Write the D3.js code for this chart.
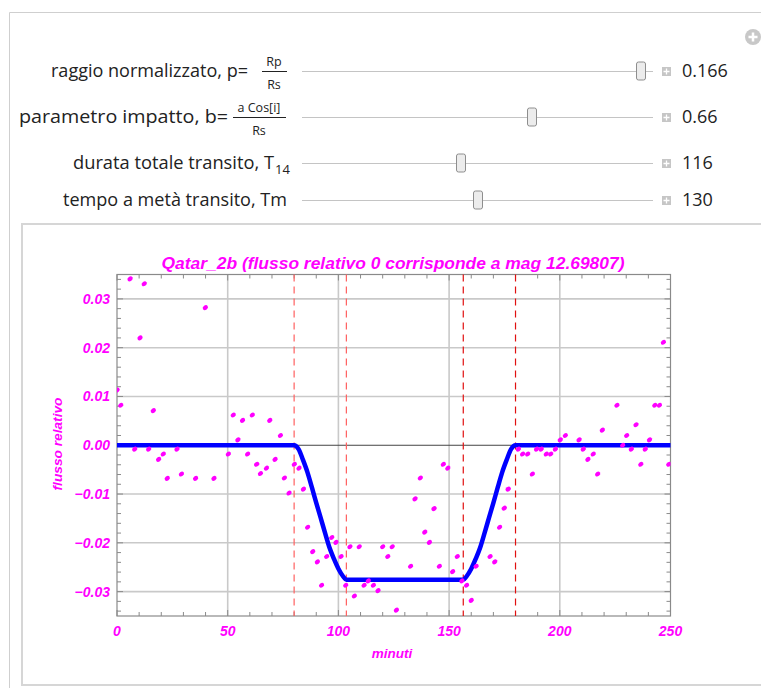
<!DOCTYPE html>
<html>
<head>
<meta charset="utf-8">
<script src="https://cdn.jsdelivr.net/npm/d3@7"></script>
<style>
  body { margin: 0; background: #fff; }
  svg { display: block; }
  .lbl { font-family: "Open Sans", sans-serif; fill: #222; }
  .tick-txt { font-family: "Liberation Sans", Arial, sans-serif; font-weight: bold; font-style: italic; fill: #ff00ff; }
</style>
</head>
<body>
<script>
// slider controls
var sliderValues = [0.166, 0.66, 116, 130];
var sliderText = ["0.166", "0.66", "116", "130"];
var sliderRanges = [[0, 0.17], [0, 1], [0, 256], [0, 260]];

// transit times marked with dashed lines (minutes)
var markTimes = [80, 103.6, 156.4, 180];

// model light curve (minutes, relative flux)
var modelT = [0, 80, 82, 84, 86, 88, 90, 92, 94, 96, 98, 100, 102, 103.6,
              156.4, 158, 160, 162, 164, 166, 168, 170, 172, 174, 176, 178, 180, 250];
var modelF = [0, 0, -0.0008, -0.0030, -0.0055, -0.0086, -0.0118, -0.0149, -0.0180, -0.0210, -0.0233, -0.0253, -0.0268, -0.02755,
              -0.02755, -0.0268, -0.0253, -0.0233, -0.0210, -0.0180, -0.0149, -0.0118, -0.0086, -0.0055, -0.0030, -0.0008, 0, 0];

// observed points
var obsT = [0, 1.7, 5.9, 8.0, 10.4, 12.3, 14.3, 16.4, 18.8, 20.9, 22.7, 27.1, 29.1, 35.5, 39.9, 43.8,
            50.3, 52.5, 54.6, 56.7, 59.0, 61.1, 63.1, 64.8, 67.5, 69.0, 71.4, 73.8, 75.6, 77.7,
            80.1, 82.2, 84.2, 86.1, 88.4, 90.5, 92.4, 94.7, 97.0, 98.9, 101.2, 103.3, 105.2, 107.2,
            109.4, 111.6, 113.5, 115.8, 117.9, 120.0, 122.3, 124.3, 126.2, 132.6, 134.6, 137.0, 139.0,
            141.1, 143.2, 145.6, 147.4, 149.4, 151.6, 153.7, 155.8, 157.9, 160.0, 162.2, 168.5, 170.6,
            172.8, 174.9, 176.7, 181.3, 183.2, 185.5, 187.6, 189.5, 191.6, 193.9, 195.9, 198.0, 200.2,
            202.5, 208.7, 210.6, 212.7, 215.1, 217.1, 219.2, 225.8, 228.4, 230.2, 232.3, 234.4, 236.6,
            238.6, 240.5, 242.9, 245.0, 246.8, 249.3];
var obsF = [0.0113, 0.0082, 0.0341, -0.0008, 0.0220, 0.0331, -0.0008, 0.0071, -0.0029, -0.0018, -0.0068, -0.0008, -0.0059, -0.0068, 0.0282, -0.0068,
            -0.0018, 0.0062, 0.0011, 0.0051, -0.0018, 0.0062, -0.0039, -0.0058, -0.0047, 0.0051, -0.0029, 0.0020, -0.0067, -0.0098,
            -0.0039, -0.0047, -0.0090, -0.0168, -0.0218, -0.0239, -0.0287, -0.0228, -0.0189, -0.0199, -0.0228, -0.0287, -0.0208, -0.0309,
            -0.0208, -0.0287, -0.0278, -0.0287, -0.0298, -0.0208, -0.0228, -0.0208, -0.0338, -0.0248, -0.0110, -0.0067, -0.0178,
            -0.0199, -0.0130, -0.0248, -0.0039, -0.0047, -0.0259, -0.0228, -0.0278, -0.0287, -0.0318, -0.0248, -0.0228, -0.0239,
            -0.0168, -0.0129, -0.0090, -0.0008, -0.0018, -0.0018, -0.0059, -0.0008, -0.0008, -0.0018, -0.0018, -0.0008, 0.0011,
            0.0020, 0.0011, -0.0008, -0.0029, -0.0018, -0.0059, 0.0031, 0.0082, 0.0000, 0.0020, -0.0008, 0.0042, -0.0039,
            -0.0008, 0.0011, 0.0082, 0.0082, 0.0211, -0.0039];

var xTicks = [0, 50, 100, 150, 200, 250];
var yTicks = [-0.03, -0.02, -0.01, 0, 0.01, 0.02, 0.03];

var W = 761, H = 688;
var svg = d3.select("body").append("svg").attr("width", W).attr("height", H);

// outer panel border
svg.append("path").attr("d", "M9.5,688 V12.5 H761")
    .attr("fill", "none").attr("stroke", "#cfcfcf");

// plus icon top right
var pi = svg.append("g").attr("transform", "translate(753,37)");
pi.append("circle").attr("r", 8).attr("fill", "#c8c8c8");
pi.append("path").attr("d", "M-4.5,0 H4.5 M0,-4.5 V4.5").attr("stroke", "#fff").attr("stroke-width", 2.5);

// ---- sliders ----
var rowsY = [71, 117, 163, 200];
var trackX = [302, 653];

var rows = svg.append("g");
function label(xEnd, y, txt, len) {
  return rows.append("text").attr("class", "lbl").attr("x", xEnd).attr("y", y + 6)
      .attr("text-anchor", "end").style("font-size", "18px")
      .attr("textLength", len).attr("lengthAdjust", "spacingAndGlyphs").text(txt);
}
function small(xc, y, txt) {
  rows.append("text").attr("class", "lbl").attr("x", xc).attr("y", y)
      .attr("text-anchor", "middle").style("font-size", "12.5px").text(txt);
}
// row 1 : fraction Rp/Rs
label(248, rowsY[0], "raggio normalizzato, p=", 197);
small(274, rowsY[0] - 5, "Rp");
rows.append("line").attr("x1", 262).attr("x2", 287).attr("y1", rowsY[0] + 0.5).attr("y2", rowsY[0] + 0.5)
    .attr("stroke", "#222");
small(274, rowsY[0] + 18, "Rs");
// row 2 : fraction a Cos[i]/Rs
label(228, rowsY[1], "parametro impatto, b=", 209);
small(259, rowsY[1] - 5, "a Cos[i]");
rows.append("line").attr("x1", 233).attr("x2", 286).attr("y1", rowsY[1] + 0.5).attr("y2", rowsY[1] + 0.5)
    .attr("stroke", "#222");
small(259, rowsY[1] + 18, "Rs");
// row 3 : T14
label(274, rowsY[2], "durata totale transito, T", 201);
rows.append("text").attr("class", "lbl").attr("x", 275).attr("y", rowsY[2] + 11)
    .style("font-size", "13px").text("14");
// row 4
label(287, rowsY[3], "tempo a metà transito, Tm", 224);

sliderValues.forEach(function(v, i) {
  var y = rowsY[i];
  var s = d3.scaleLinear().domain(sliderRanges[i]).range([trackX[0] + 4, trackX[1] - 4]);
  rows.append("line").attr("x1", trackX[0]).attr("x2", trackX[1])
      .attr("y1", y + 0.5).attr("y2", y + 0.5).attr("stroke", "#c4c4c4");
  var tx = Math.round(s(v));
  rows.append("rect").attr("x", tx - 4.5).attr("y", y - 9).attr("width", 9).attr("height", 18)
      .attr("rx", 2).attr("fill", "#ececec").attr("stroke", "#8e8e8e");
  // small plus box
  rows.append("rect").attr("x", 662).attr("y", y - 4).attr("width", 9).attr("height", 9)
      .attr("fill", "#c6c6c6");
  rows.append("path").attr("d", "M" + 663.5 + "," + (y + 0.5) + " h6 M" + 666.5 + "," + (y - 2.5) + " v6")
      .attr("stroke", "#fff").attr("stroke-width", 1.3);
  rows.append("text").attr("class", "lbl").attr("x", 682).attr("y", y + 6)
      .style("font-size", "18px").text(sliderText[i]);
});

// ---- chart panel ----
svg.append("rect").attr("x", 22).attr("y", 224).attr("width", 760).attr("height", 461)
    .attr("fill", "#fff").attr("stroke", "#d6d6d6").attr("stroke-width", 2);

var x = d3.scaleLinear().domain([0, 250]).range([117, 670.5]);
var y = d3.scaleLinear().domain([-0.035, 0.035]).range([616, 274.5]);

var plot = svg.append("g");

// grid
plot.append("g").selectAll("line").data(xTicks.slice(1, -1)).enter().append("line")
    .attr("x1", function(d) { return x(d); }).attr("x2", function(d) { return x(d); })
    .attr("y1", y(0.035)).attr("y2", y(-0.035))
    .attr("stroke", "#c9c9c9").attr("stroke-width", 1.6);
plot.append("g").selectAll("line").data(yTicks.filter(function(d) { return d !== 0; })).enter().append("line")
    .attr("x1", x(0)).attr("x2", x(250))
    .attr("y1", function(d) { return y(d); }).attr("y2", function(d) { return y(d); })
    .attr("stroke", "#c9c9c9").attr("stroke-width", 1.6);
plot.append("line").attr("x1", x(0)).attr("x2", x(250)).attr("y1", y(0)).attr("y2", y(0))
    .attr("stroke", "#444").attr("stroke-width", 1);

// frame and minor ticks
plot.append("rect").attr("x", x(0)).attr("y", y(0.035)).attr("width", x(250) - x(0))
    .attr("height", y(-0.035) - y(0.035)).attr("fill", "none").attr("stroke", "#8a8a8a").attr("stroke-width", 1.2);

var xMinor = d3.range(0, 251, 10);
var yMinor = d3.range(-34, 35, 2).map(function(d) { return d / 1000; });
var tk = plot.append("g").attr("stroke", "#8a8a8a").attr("stroke-width", 1);
xMinor.forEach(function(d) {
  var len = d % 50 === 0 ? 6 : 4;
  tk.append("line").attr("x1", x(d)).attr("x2", x(d)).attr("y1", y(-0.035)).attr("y2", y(-0.035) - len);
  tk.append("line").attr("x1", x(d)).attr("x2", x(d)).attr("y1", y(0.035)).attr("y2", y(0.035) + len);
});
yMinor.forEach(function(d) {
  var len = Math.abs(Math.round(d * 1000)) % 10 === 0 ? 6 : 4;
  tk.append("line").attr("x1", x(0)).attr("x2", x(0) + len).attr("y1", y(d)).attr("y2", y(d));
  tk.append("line").attr("x1", x(250)).attr("x2", x(250) - len).attr("y1", y(d)).attr("y2", y(d));
});

// dashed markers
plot.append("g").selectAll("line").data(markTimes).enter().append("line")
    .attr("x1", function(d) { return x(d); }).attr("x2", function(d) { return x(d); })
    .attr("y1", y(0.035)).attr("y2", y(-0.035))
    .attr("stroke", function(d, i) { return i < 2 ? "#ff6060" : "#e01010"; })
    .attr("stroke-width", 1.2).attr("stroke-dasharray", "7,5");

// model curve
var model = modelT.map(function(t, i) { return [t, modelF[i]]; });
plot.append("path").datum(model)
    .attr("fill", "none").attr("stroke", "#0000ff").attr("stroke-width", 4.5)
    .attr("stroke-linejoin", "round")
    .attr("d", d3.line().x(function(d) { return x(d[0]); }).y(function(d) { return y(d[1]); })
        .curve(d3.curveMonotoneX));

// observed points
var clip = svg.append("clipPath").attr("id", "clip").append("rect")
    .attr("x", x(0)).attr("y", y(0.035)).attr("width", x(250) - x(0)).attr("height", y(-0.035) - y(0.035));
plot.append("g").attr("clip-path", "url(#clip)").selectAll("ellipse")
    .data(obsT.map(function(t, i) { return [t, obsF[i]]; }))
    .enter().append("ellipse")
    .attr("transform", function(d) { return "translate(" + x(d[0]) + "," + y(d[1]) + ") rotate(-35)"; })
    .attr("rx", 2.8).attr("ry", 2.2).attr("fill", "#ff00ff");

// tick labels
var fmt = d3.format(".2f");
plot.append("g").selectAll("text").data(yTicks).enter().append("text")
    .attr("class", "tick-txt").attr("x", x(0) - 7).attr("y", function(d) { return y(d) + 5; })
    .attr("text-anchor", "end").style("font-size", "14px").text(function(d) { return fmt(d); });
plot.append("g").selectAll("text").data(xTicks).enter().append("text")
    .attr("class", "tick-txt").attr("x", function(d) { return x(d); }).attr("y", 636)
    .attr("text-anchor", "middle").style("font-size", "14px").text(function(d) { return d; });

// axis titles
svg.append("text").attr("class", "tick-txt").attr("x", 392).attr("y", 658)
    .attr("text-anchor", "middle").style("font-size", "13.5px").text("minuti");
svg.append("text").attr("class", "tick-txt")
    .attr("transform", "translate(62,444) rotate(-90)")
    .attr("text-anchor", "middle").style("font-size", "13.5px")
    .attr("textLength", 93).attr("lengthAdjust", "spacingAndGlyphs").text("flusso relativo");

// title
svg.append("text").attr("class", "tick-txt").attr("x", 393).attr("y", 269)
    .attr("text-anchor", "middle").style("font-size", "16px")
    .attr("textLength", 463).attr("lengthAdjust", "spacingAndGlyphs")
    .text("Qatar_2b (flusso relativo 0 corrisponde a mag 12.69807)");
</script>
</body>
</html>
